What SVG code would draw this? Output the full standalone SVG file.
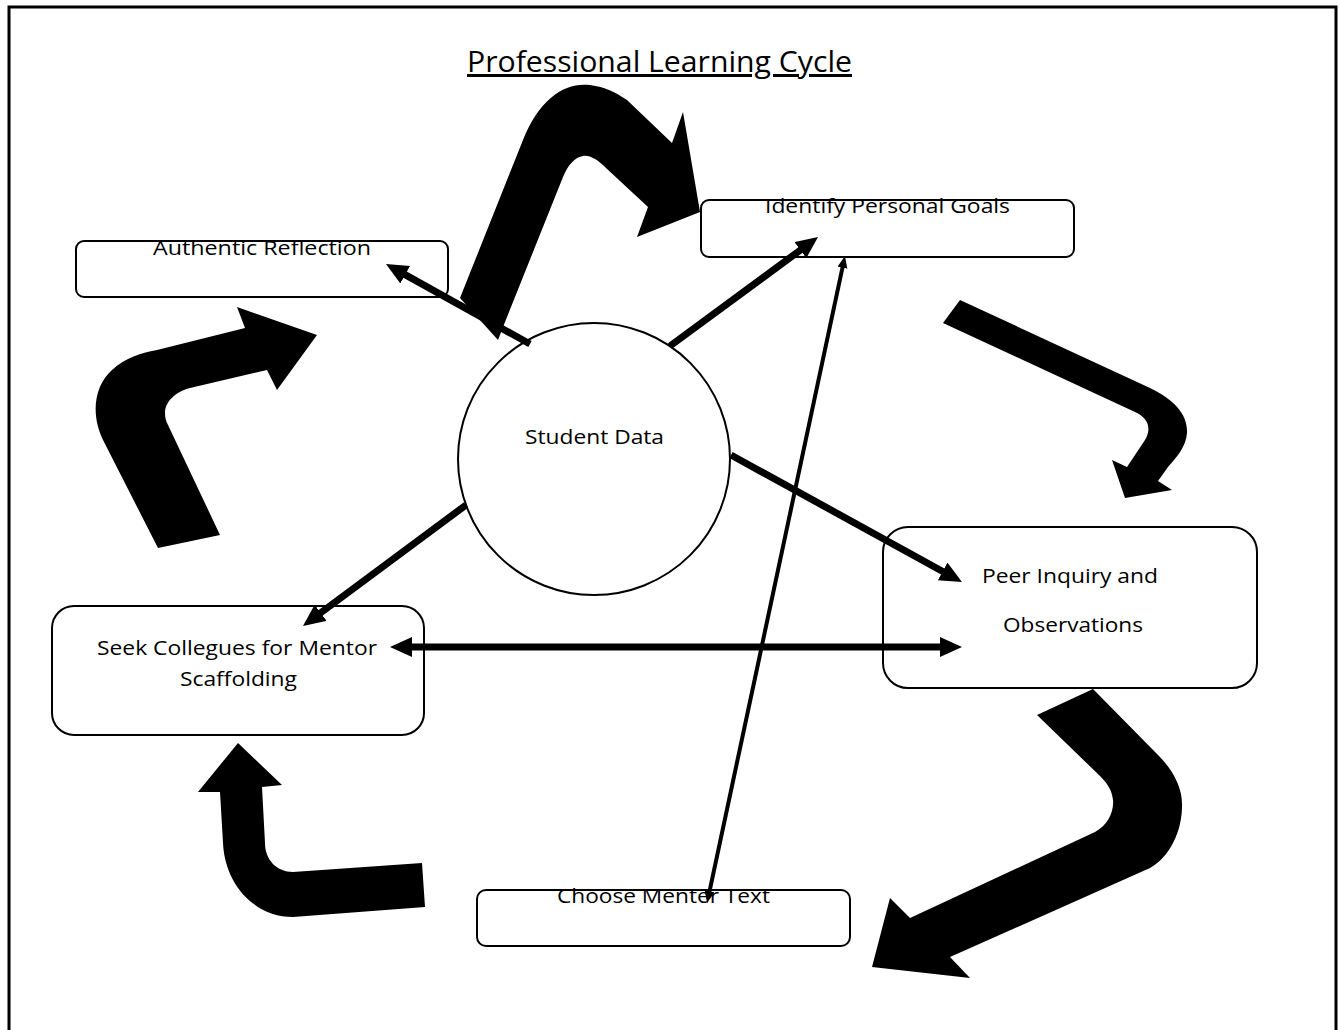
<svg xmlns="http://www.w3.org/2000/svg" width="1340" height="1030" viewBox="0 0 1340 1030">
  <style>
    .frame { fill: #ffffff; stroke: #000000; stroke-width: 3; }
    .box { fill: #ffffff; stroke: #000000; stroke-width: 2; }
    .lbl { font-family: "Open Sans", "Noto Sans", "Liberation Sans", sans-serif; font-size: 20.5px; fill: #000000; text-anchor: middle; }
    .title { font-family: "Open Sans", "Noto Sans", "Liberation Sans", sans-serif; font-size: 30px; fill: #000000; text-anchor: middle; }
    .conn { stroke: #000000; stroke-width: 7; fill: none; }
    .thin { stroke: #000000; stroke-width: 4; fill: none; }
    .block { fill: #000000; stroke: none; }
  </style>
  <defs>
    <marker id="head" markerUnits="userSpaceOnUse" markerWidth="24" markerHeight="22" refX="12" refY="10" orient="auto-start-reverse">
      <path d="M0,0 L22,10 L0,20 Z" fill="#000000"/>
    </marker>
    <marker id="headSmall" markerUnits="userSpaceOnUse" markerWidth="14" markerHeight="12" refX="6" refY="5" orient="auto-start-reverse">
      <path d="M0,0 L12,5 L0,10 Z" fill="#000000"/>
    </marker>
  </defs>

  <rect class="frame" x="9" y="7" width="1327" height="1030"/>

  <g id="title">
    <text class="title" x="659.5" y="72" textLength="385" lengthAdjust="spacingAndGlyphs" text-decoration="underline">Professional Learning Cycle</text>
  </g>

  <g id="cycle-arrows">
    <path class="block" d="M460,298 L523,140 C540,98 565,82 590,85 C605,87 615,92 627,100 L672,143 L683,112 L700,212 L637,237 L648,207 L606,168 C598,160 590,155 583,156 C575,157 568,165 563,177 L505,322 L498,340 Z"/>
    <path class="block" d="M960,300 L1150,388 C1175,400 1188,415 1187,433 C1186,447 1176,458 1168,467 L1158,481 L1172,490 L1125,498 L1112,460 L1127,467 L1145,440 C1152,428 1148,418 1135,412 L943,323 Z"/>
    <path class="block" d="M1093,689 L1158,755 C1175,772 1183,790 1182,808 C1181,838 1165,860 1150,868 L950,957 L970,978 L872,967 L890,898 L910,918 L1095,832 C1108,825 1114,812 1113,800 C1112,790 1107,783 1100,776 L1037,715 Z"/>
    <path class="block" d="M422,863 L293,872 C277,872 265,860 265,843 L262,787 L282,785 L238,743 L198,792 L220,792 L223,843 C225,885 255,917 293,917 L425,907 Z"/>
    <path class="block" d="M158,548 L103,440 C90,413 95,385 112,370 C125,358 140,353 157,350 L245,328 L237,307 L317,335 L277,390 L267,370 L190,388 C175,392 165,402 165,413 C165,418 166,421 168,425 L220,535 Z"/>
  </g>

  <g id="node-authentic-reflection">
    <rect class="box" x="76" y="241" width="372" height="56" rx="8"/>
    <text class="lbl" x="262" y="255" textLength="218" lengthAdjust="spacingAndGlyphs">Authentic Reflection</text>
  </g>

  <g id="node-identify-personal-goals">
    <rect class="box" x="701" y="200" width="373" height="57" rx="8"/>
    <text class="lbl" x="887.5" y="213" textLength="245" lengthAdjust="spacingAndGlyphs">Identify Personal Goals</text>
  </g>

  <g id="node-student-data">
    <circle class="box" cx="594" cy="459" r="136"/>
    <text class="lbl" x="594.5" y="444" textLength="139" lengthAdjust="spacingAndGlyphs">Student Data</text>
  </g>

  <g id="node-peer-inquiry">
    <rect class="box" x="883" y="527" width="374" height="161" rx="25"/>
    <text class="lbl" x="1070" y="583" textLength="176" lengthAdjust="spacingAndGlyphs">Peer Inquiry and</text>
    <text class="lbl" x="1073" y="632" textLength="140" lengthAdjust="spacingAndGlyphs">Observations</text>
  </g>

  <g id="node-seek-collegues">
    <rect class="box" x="52" y="606" width="372" height="129" rx="22"/>
    <text class="lbl" x="237" y="655" textLength="280" lengthAdjust="spacingAndGlyphs">Seek Collegues for Mentor</text>
    <text class="lbl" x="238.5" y="686" textLength="117" lengthAdjust="spacingAndGlyphs">Scaffolding</text>
  </g>

  <g id="node-choose-menter-text">
    <rect class="box" x="477" y="890" width="373" height="56" rx="9"/>
    <text class="lbl" x="663.5" y="903" textLength="213" lengthAdjust="spacingAndGlyphs">Choose Menter Text</text>
  </g>

  <g id="connectors">
    <line class="conn" x1="530" y1="344" x2="394.7" y2="268.9" marker-end="url(#head)"/>
    <line class="conn" x1="670" y1="346" x2="810" y2="243" marker-end="url(#head)"/>
    <line class="conn" x1="731" y1="455" x2="953.2" y2="577.2" marker-end="url(#head)"/>
    <line class="conn" x1="466" y1="505" x2="311" y2="620" marker-end="url(#head)"/>
    <line class="conn" x1="400" y1="647" x2="952" y2="647" marker-start="url(#head)" marker-end="url(#head)"/>
    <line class="thin" x1="708.3" y1="897.1" x2="843.7" y2="261.9" marker-start="url(#headSmall)" marker-end="url(#headSmall)"/>
  </g>
</svg>
